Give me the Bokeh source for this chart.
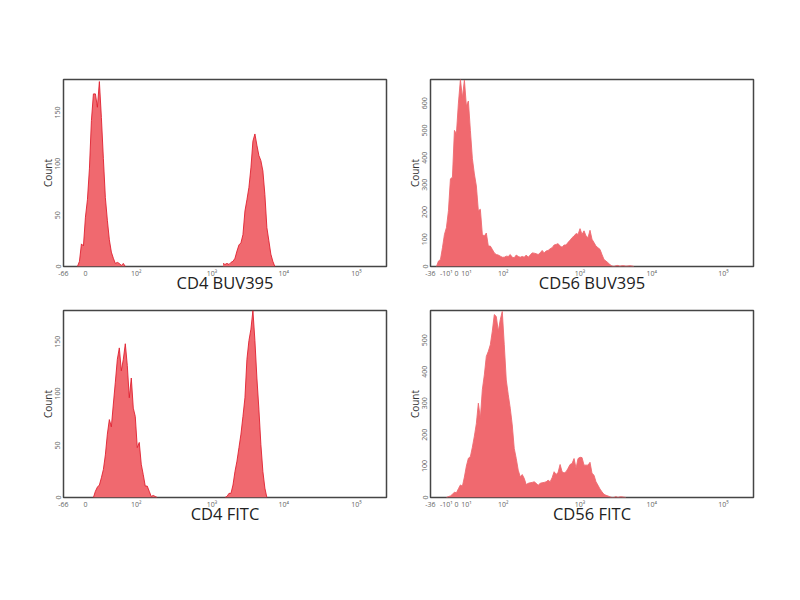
from bokeh.plotting import figure
from bokeh.layouts import column, row
from bokeh.embed import file_html
from bokeh.resources import INLINE

cd4_ticks = [0, 22, 73, 149, 221, 294]
cd4_labels = ["-66", "0", "10²", "10³", "10⁴", "10⁵"]
cd56_ticks = [0, 16, 26, 36, 73, 150, 222, 294]
cd56_labels = ["-36", "-10¹", "0", "10¹", "10²", "10³", "10⁴", "10⁵"]

cd4_buv_ch1 = 14
cd4_buv_peak1 = [0, 5, 22, 20, 48, 65, 95, 142, 168, 168, 155, 180, 145, 105, 67, 45, 26, 14, 8, 3, 4, 3, 1, 3, 0]
cd4_buv_ch2 = 160
cd4_buv_peak2 = [3, 2, 3, 2, 4, 5, 8, 15, 21, 23, 31, 54, 65, 77, 96, 122, 129, 118, 108, 103, 93, 70, 38, 25, 12, 5, 0]

cd56_buv_ch = 6
cd56_buv = [0, 20, 26, 69, 118, 143, 205, 322, 328, 500, 488, 600, 687, 620, 685, 590, 608, 500, 397, 340,
            296, 205, 210, 118, 112, 123, 75, 75, 63, 50, 44, 42, 38, 34, 34, 38, 37, 44, 34, 32,
            42, 37, 34, 37, 34, 42, 34, 42, 50, 49, 47, 44, 50, 59, 50, 57, 59, 65, 69, 79,
            81, 84, 75, 71, 79, 79, 89, 96, 106, 112, 121, 118, 139, 118, 131, 112, 106, 133, 100, 88,
            75, 69, 63, 44, 26, 20, 14, 7, 2, 0, 3, 4, 1, 3, 3, 1, 2, 3, 2, 0]

cd4_fitc_ch1 = 30
cd4_fitc_peak1 = [0, 6, 10, 12, 19, 27, 41, 61, 75, 68, 90, 111, 133, 144, 122, 133, 148, 127, 96, 115,
                  86, 78, 48, 53, 32, 22, 11, 11, 6, 1, 2, 1, 0]
cd4_fitc_ch2 = 162
cd4_fitc_peak2 = [0, 1, 4, 4, 12, 25, 35, 48, 61, 78, 96, 133, 151, 162, 180, 151, 115, 85, 51, 25, 9, 0]

cd56_fitc_ch = 16
cd56_fitc = [0, 3, 5, 10, 17, 15, 28, 40, 36, 65, 100, 125, 130, 160, 195, 235, 300, 252, 343, 390,
             449, 465, 486, 529, 582, 576, 529, 566, 592, 486, 374, 327, 284, 231, 156, 124, 87, 66, 73, 61,
             41, 45, 47, 48, 50, 45, 39, 45, 47, 48, 50, 55, 50, 63, 82, 73, 80, 105, 82, 78,
             82, 93, 105, 108, 124, 93, 124, 128, 127, 103, 103, 103, 112, 77, 71, 50, 39, 27, 18, 10,
             7, 5, 2, 0, 0, 3, 0, 2, 2, 1, 0]

FONT = "Open Sans"


def bins(start, counts):
    return [start + 2 * i for i in range(len(counts))]


def panel(title, segments, ymax, yticks, xticks, xlabels, edge, left, right, top, bottom):
    p = figure(output_backend="svg", toolbar_location=None,
               frame_width=323, frame_height=187,
               x_range=(0, 324), y_range=(0, ymax),
               min_border_left=left, min_border_right=right,
               min_border_top=top, min_border_bottom=bottom)
    p.grid.visible = False
    p.background_fill_color = "white"
    p.outline_line_color = "#454545"
    p.outline_line_width = 1.5
    for start, counts in segments:
        xs = bins(start, counts)
        p.varea(x=xs, y1=[0] * len(xs), y2=counts, fill_color="#f0696f")
        p.line(x=xs, y=counts, line_color=edge, line_width=0.9)
    p.xaxis.ticker = xticks
    p.xaxis.major_label_overrides = dict(zip(xticks, xlabels))
    p.yaxis.ticker = yticks
    p.yaxis.major_label_orientation = "vertical"
    p.xaxis.axis_label = title
    p.xaxis.axis_label_text_font = FONT
    p.xaxis.axis_label_text_font_size = "16.5px"
    p.xaxis.axis_label_text_font_style = "normal"
    p.xaxis.axis_label_text_color = "#222222"
    p.xaxis.axis_label_standoff = -10
    p.yaxis.axis_label = "Count"
    p.yaxis.axis_label_text_font = FONT
    p.yaxis.axis_label_text_font_size = "10px"
    p.yaxis.axis_label_text_font_style = "normal"
    p.yaxis.axis_label_text_color = "#333333"
    p.yaxis.axis_label_standoff = -2
    for ax in (p.xaxis, p.yaxis):
        ax.major_label_text_font = FONT
        ax.major_label_text_font_size = "7px"
        ax.major_label_text_color = "#666666"
        ax.major_label_standoff = 2
        ax.axis_line_color = None
        ax.major_tick_line_color = None
        ax.major_tick_in = 0
        ax.major_tick_out = 0
        ax.minor_tick_line_color = None
        ax.minor_tick_in = 0
        ax.minor_tick_out = 0
    p.yaxis.major_label_standoff = 3
    return p


top_l = panel("CD4 BUV395", [(cd4_buv_ch1, cd4_buv_peak1), (cd4_buv_ch2, cd4_buv_peak2)], 182,
              [0, 50, 100, 150], cd4_ticks, cd4_labels, "#e02030", 63, 13, 79, 34)
top_r = panel("CD56 BUV395", [(cd56_buv_ch, cd56_buv)], 687,
              [0, 100, 200, 300, 400, 500, 600], cd56_ticks, cd56_labels, "#ee6a70", 31, 20, 79, 34)
bot_l = panel("CD4 FITC", [(cd4_fitc_ch1, cd4_fitc_peak1), (cd4_fitc_ch2, cd4_fitc_peak2)], 180,
              [0, 50, 100, 150], cd4_ticks, cd4_labels, "#e02030", 63, 13, 10, 40)
bot_r = panel("CD56 FITC", [(cd56_fitc_ch, cd56_fitc)], 595,
              [0, 100, 200, 300, 400, 500], cd56_ticks, cd56_labels, "#ee6a70", 31, 20, 10, 40)

layout = column(row(top_l, top_r, spacing=0), row(bot_l, bot_r, spacing=0), spacing=0)
open("out.html", "w").write(file_html(layout, INLINE))
